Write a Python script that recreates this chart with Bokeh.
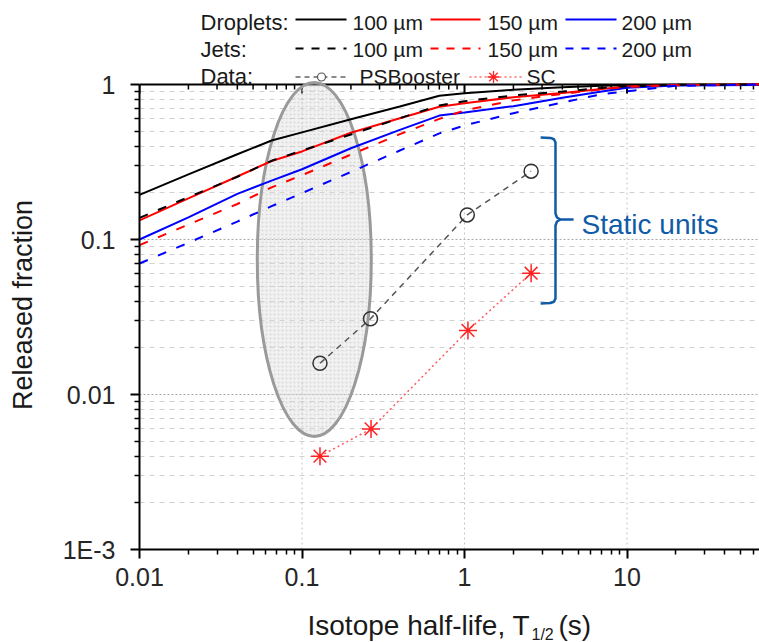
import math
from bokeh.plotting import figure
from bokeh.models import Range1d, FixedTicker, CustomJSTickFormatter
from bokeh.layouts import column
from bokeh.embed import file_html
from bokeh.resources import INLINE
from bokeh.core.properties import value

FONT = "Liberation Sans"
TXT = "#1a1a1a"

# ---------------- data ----------------
t_model = [0.01, 0.02, 0.04, 0.065, 0.1, 0.2, 0.4, 0.7, 1, 2, 4, 7, 10, 20, 65]
drop_100 = [0.194, 0.263, 0.355, 0.435, 0.491, 0.596, 0.722, 0.846, 0.879, 0.924, 0.959, 0.981, 0.990, 0.997, 1.0]
drop_150 = [0.133, 0.184, 0.255, 0.321, 0.370, 0.488, 0.606, 0.718, 0.757, 0.828, 0.881, 0.935, 0.971, 0.993, 1.0]
drop_200 = [0.100, 0.139, 0.197, 0.240, 0.284, 0.388, 0.510, 0.630, 0.660, 0.725, 0.821, 0.901, 0.952, 0.985, 0.993]
jet_100 = [0.138, 0.1875, 0.254, 0.322, 0.375, 0.476, 0.606, 0.732, 0.780, 0.850, 0.900, 0.950, 0.975, 0.995, 1.0]
jet_150 = [0.092, 0.125, 0.1695, 0.217, 0.260, 0.353, 0.478, 0.600, 0.680, 0.790, 0.870, 0.930, 0.965, 0.990, 1.0]
jet_200 = [0.070, 0.0953, 0.1305, 0.164, 0.199, 0.273, 0.375, 0.484, 0.544, 0.653, 0.765, 0.866, 0.905, 0.980, 1.0]

ps_t = [0.129, 0.264, 1.04, 2.57]
ps_f = [0.0159, 0.0308, 0.144, 0.276]
sc_t = [0.129, 0.266, 1.05, 2.57]
sc_f = [0.0040, 0.0060, 0.0259, 0.0606]

sizes = ["100 µm", "150 µm", "200 µm"]
row_titles = ["Droplets:", "Jets:", "Data:"]
data_names = ["PSBooster", "SC"]
colors = ["#000000", "#ff0000", "#0000ff"]

x_major = [0.01, 0.1, 1, 10]
x_labels = ["0.01", "0.1", "1", "10"]
y_major = [0.001, 0.01, 0.1, 1]
y_labels = ["1E-3", "0.01", "0.1", "1"]
x_title = ["Isotope half-life, T", "1/2", "(s)"]
y_title = "Released fraction"

# highlighted region (ellipse) and bracket annotation
ell_t, ell_f = 0.119, 0.0743
brace_x = [2.94, 3.63, 4.69]          # left end, spine, tip
brace_y = [0.455, 0.1346, 0.0387]     # top, middle, bottom
static_text = "Static units"
static_pos = (5.25, 0.125)

x_minor = [m * 10.0 ** e for e in range(-2, 2) for m in range(2, 10)]
y_minor = [m * 10.0 ** e for e in range(-3, 0) for m in range(2, 10)]

# ---------------- geometry (picture pixels) ----------------
ORIGIN_X, ORIGIN_Y = 0, 0
AX_LEFT, AX_TOP, AX_BOT, AX_RIGHT = 139, 84, 549, 759
DEC_X, DEC_Y = 162.5, 155.0         # pixels per decade
BORDER_L = AX_LEFT - ORIGIN_X
FRAME_W = AX_RIGHT - AX_LEFT
FRAME_H = AX_BOT - ORIGIN_Y
X_MIN, Y_MIN = 0.01, 0.001
X_MAX = X_MIN * 10 ** (FRAME_W / DEC_X)
Y_MAX = 10 ** ((AX_TOP - ORIGIN_Y) / DEC_Y)    # legend area lives above y = 1


def X(px):  # picture x -> data x (log axis)
    return X_MIN * 10 ** ((px - AX_LEFT) / DEC_X)


def Y(py):  # picture y -> data y (log axis)
    return 10 ** ((AX_TOP - py) / DEC_Y)


def fmt(tvals, tlabels):
    return CustomJSTickFormatter(args=dict(tvals=tvals, tlabels=tlabels), code="""
        let best = 0, bd = Infinity;
        for (let i = 0; i < tvals.length; i++) {
            const d = Math.abs(Math.log10(tick) - Math.log10(tvals[i]));
            if (d < bd) { bd = d; best = i; }
        }
        return tlabels[best];
    """)


p = figure(x_axis_type="log", y_axis_type="log", title=None,
           x_range=Range1d(X_MIN, X_MAX), y_range=Range1d(Y_MIN, Y_MAX),
           frame_width=FRAME_W, frame_height=FRAME_H,
           min_border_left=BORDER_L, min_border_right=0, min_border_top=0, min_border_bottom=44,
           output_backend="svg", toolbar_location=None, outline_line_color=None)

xt = FixedTicker(ticks=x_major, minor_ticks=x_minor)
yt = FixedTicker(ticks=y_major, minor_ticks=y_minor)
for ax, tk, f in ((p.xaxis[0], xt, fmt(x_major, x_labels)), (p.yaxis[0], yt, fmt(y_major, y_labels))):
    ax.ticker = tk
    ax.formatter = f
    ax.axis_line_width = 2
    ax.major_tick_line_width = 2
    ax.minor_tick_line_width = 1.5
    ax.major_tick_out = 9
    ax.major_tick_in = 0
    ax.minor_tick_out = 5
    ax.minor_tick_in = 0
    ax.major_label_text_font = FONT
    ax.major_label_text_font_size = "25px"
    ax.major_label_text_color = "#262626"
p.yaxis[0].bounds = (Y_MIN, 1)
p.xaxis[0].major_label_standoff = 9
p.yaxis[0].major_label_standoff = 15
# the axis title is centred on the whole frame (which includes the legend area);
# trailing no-break spaces move the visible words down to the middle of the axis
p.yaxis[0].axis_label = y_title + "\u00a0" * 8
p.yaxis[0].axis_label_text_font = FONT
p.yaxis[0].axis_label_text_font_size = "27px"
p.yaxis[0].axis_label_text_font_style = "normal"
p.yaxis[0].axis_label_text_color = TXT
p.yaxis[0].axis_label_standoff = 22

# grid: horizontal from the library; vertical major lines stop at y = 1
p.xgrid.visible = False
p.ygrid.ticker = yt
p.ygrid.grid_line_color = "#a8a8a8"
p.ygrid.grid_line_dash = "2 2"
p.ygrid.grid_line_width = 1
p.ygrid.minor_grid_line_color = "#d0d0d0"
p.ygrid.minor_grid_line_dash = "5 5"
p.ygrid.minor_grid_line_width = 1
p.segment(x0=x_major[1:], y0=[Y_MIN] * 3, x1=x_major[1:], y1=[1] * 3,
          line_color="#c4c4c4", line_dash="2 3", line_width=1)

# top axis at y = 1 (ticks pointing inward)
p.line([X_MIN, X_MAX], [1, 1], color="black", line_width=2)
p.ray(x=x_major, y=[1] * len(x_major), length=9, angle=-math.pi / 2, length_units="screen",
      line_color="black", line_width=2)
p.ray(x=x_minor, y=[1] * len(x_minor), length=5, angle=-math.pi / 2, length_units="screen",
      line_color="black", line_width=1.5)

# highlighted ellipse
p.ellipse(x=[ell_t], y=[ell_f], width=114, height=354, width_units="screen", height_units="screen",
          fill_color="#d8d8d8", fill_alpha=0.35, hatch_pattern="dot", hatch_color="#c8c8c8",
          hatch_scale=4, hatch_alpha=0.6, line_color="#9a9a9a", line_width=3)

# model curves
for ys, c in zip((drop_100, drop_150, drop_200), colors):
    p.line(t_model, ys, color=c, line_width=2)
for ys, c in zip((jet_100, jet_150, jet_200), colors):
    p.line(t_model, ys, color=c, line_width=2, line_dash="9 11")

# measured data
p.line(ps_t, ps_f, color="#555555", line_width=1.5, line_dash="6 5")
p.scatter(ps_t, ps_f, marker="circle", size=14, fill_color=None, line_color="#333333", line_width=1.5)
p.line(sc_t, sc_f, color="#ff5a5a", line_width=1.5, line_dash="2 3")
p.scatter(sc_t, sc_f, marker="asterisk", size=18, line_color="#ff2020", line_width=1.5)

# brace
kx = 10 ** (1 / DEC_X)
ky = 10 ** (1 / DEC_Y)
xl, xs, xtp = brace_x
ytp, ym, yb = brace_y
up_x = [xl, xs / kx ** 5, xs / kx ** 1.5, xs, xs, xs * kx ** 1.5, xs * kx ** 5, xtp]
up_y = [ytp, ytp / ky ** 0.4, ytp / ky ** 1.7, ytp / ky ** 5, ym * ky ** 6, ym * ky ** 2, ym, ym]
lo_x = [xs * kx ** 5, xs * kx ** 1.5, xs, xs, xs / kx ** 1.5, xs / kx ** 5, xl]
lo_y = [ym, ym / ky ** 2, ym / ky ** 6, yb * ky ** 5, yb * ky ** 1.7, yb * ky ** 0.4, yb]
BLUE = "#0f5ba7"
p.line(up_x, up_y, color=BLUE, line_width=2.5)
p.line(lo_x, lo_y, color=BLUE, line_width=2.5)
p.text(x=[static_pos[0]], y=[static_pos[1]], text=[static_text], text_font=value(FONT),
       text_font_size="28px", text_color=BLUE, text_baseline="middle")

# ---------------- legend (inside the frame, above y = 1) ----------------
row_line_y = [19, 48, 76.5]
row_text_y = [21.5, 49.2, 76.2]
line_x = [(295, 346), (430, 480), (565, 616)]
lab_x = [352, 487, 621]


def txt(pxs, pys, texts, size):
    p.text(x=[X(v) for v in pxs], y=[Y(v) for v in pys], text=texts, text_font=value(FONT),
           text_font_size=size, text_color=TXT, text_baseline="middle", text_align="left")


def hline(px0, px1, py, color, width, dash="solid"):
    p.line([X(px0), X(px1)], [Y(py), Y(py)], color=color, line_width=width, line_dash=dash)


txt([200] * 3, row_text_y, row_titles, "22px")
for i in range(3):
    x0, x1 = line_x[i]
    hline(x0, x1, row_line_y[0], colors[i], 2)
    hline(x0, x1, row_line_y[1], colors[i], 2, "8 8")
    txt([lab_x[i]] * 2, row_text_y[:2], [sizes[i]] * 2, "21px")
hline(295, 347, row_line_y[2], "#666666", 1.5, "5 4")
p.scatter([X(321)], [Y(row_line_y[2])], marker="circle", size=8, fill_color="white",
          line_color="#555555", line_width=1.2)
hline(469, 521, row_line_y[2], "#ff6a6a", 1.5, "2 3")
p.scatter([X(493)], [Y(row_line_y[2])], marker="asterisk", size=12, line_color="#ff2020", line_width=1.3)
txt([359, 526], [row_text_y[2]] * 2, data_names, "21px")

# ---------------- x-axis title strip ----------------
XT_TOP, XT_BOT = 593, 642
xtfig = figure(title=None, x_range=Range1d(AX_LEFT, AX_RIGHT), y_range=Range1d(XT_BOT, XT_TOP),
               frame_width=FRAME_W, frame_height=XT_BOT - XT_TOP,
               min_border_left=BORDER_L, min_border_right=0, min_border_top=0, min_border_bottom=0,
               x_axis_location=None, y_axis_location=None,
               output_backend="svg", toolbar_location=None, outline_line_color=None)
xtfig.grid.visible = False
xtfig.text(x=[307, 558], y=[625, 625], text=[x_title[0], x_title[2]], text_font=value(FONT),
           text_font_size="28px", text_color=TXT, text_baseline="middle")
xtfig.text(x=[531], y=[633.5], text=[x_title[1]], text_font=value(FONT),
           text_font_size="16px", text_color=TXT, text_baseline="middle")

layout = column(p, xtfig, spacing=0)
open("out.html", "w").write(file_html(layout, INLINE))
